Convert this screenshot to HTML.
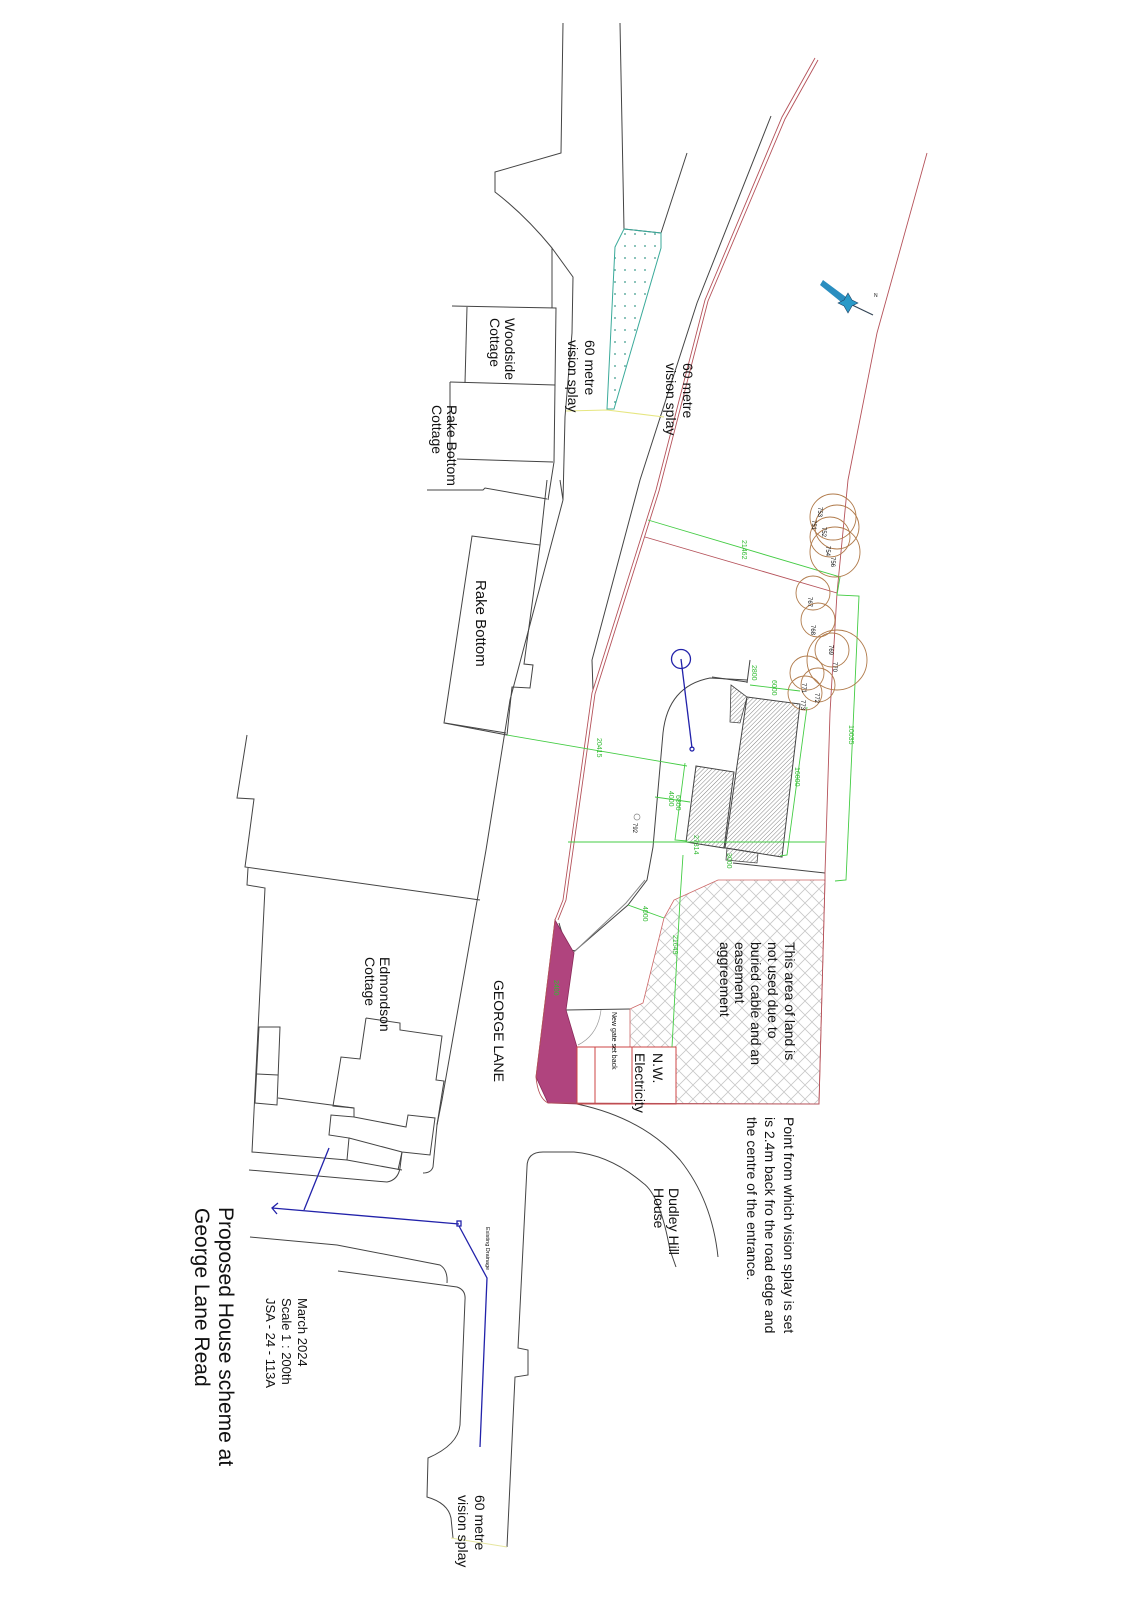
<!DOCTYPE html>
<html><head><meta charset="utf-8"><style>
html,body{margin:0;padding:0;background:#fff}
svg{display:block}
text{font-family:"Liberation Sans",sans-serif;fill:#111}
</style></head><body>
<svg width="1130" height="1600" viewBox="0 0 1130 1600" xmlns="http://www.w3.org/2000/svg">
<defs>
<pattern id="xh" width="14" height="14" patternUnits="userSpaceOnUse">
<path d="M0 0L14 14M14 0L0 14" stroke="#c8c8c8" stroke-width="0.8"/>
</pattern>
<pattern id="hh" width="3" height="3" patternUnits="userSpaceOnUse" patternTransform="rotate(45)">
<line x1="0" y1="0" x2="0" y2="3" stroke="#666" stroke-width="0.8"/>
</pattern>
<pattern id="dots" width="10" height="12" patternUnits="userSpaceOnUse">
<circle cx="5" cy="6" r="0.9" fill="#3a9a8a"/>
</pattern>
</defs>
<g fill="none" stroke="#444" stroke-width="1">
<path d="M563,23 L561,153 L495,172 L495,192 Q525,215 552,248 L573,277 L572,333 L565,417 L563,500 L560,480"/>
<line x1="552" y1="248" x2="552" y2="308"/>
<polyline points="620,23 624,229 661,233 687,153"/>
<polyline points="452,306 556,308 554,462 548,500"/>
<line x1="467" y1="307" x2="465" y2="383"/>
<line x1="450" y1="382" x2="555" y2="385"/>
<line x1="450" y1="382" x2="450" y2="460"/>
<line x1="457" y1="459" x2="553" y2="462"/>
<polyline points="427,490 483,490 485,488 547,499"/>
<polygon points="472,536 540,545 524,664 533,665 530,688 512,687 507,735 444,723"/>
<line x1="547" y1="480" x2="540" y2="545"/>
<path d="M563,500 L510,700 L486,850 L442,1100 L437,1125 L433,1167 Q431,1173 423,1173"/>
<polyline points="247,735 237,798 254,799 245,867 480,900"/>
<line x1="445" y1="723" x2="506" y2="733"/>
<polyline points="248,868 247,885 265,888 252,1152 347,1160 402,1170"/>
<polygon points="259,1027 280,1027 277,1105 255,1103"/>
<line x1="257" y1="1074" x2="278" y2="1075"/>
<line x1="278" y1="1098" x2="354" y2="1108"/>
<polyline points="366,1018 400,1023 400,1030 442,1036 436,1080 444,1081 437,1125"/>
<polyline points="366,1018 360,1059 341,1057 333,1106 354,1108 354,1117 331,1115 329,1135 349,1138 347,1160"/>
<polyline points="349,1138 402,1152 430,1155 435,1118 408,1115 406,1127 354,1117"/>
<line x1="402" y1="1152" x2="398" y2="1170"/>
<path d="M249,1170 L387,1182 Q398,1180 400,1168 L402,1152"/>
<path d="M250,1237 L337,1245 L440,1265 Q448,1270 447,1283"/>
<path d="M338,1271 L457,1287 Q466,1290 465,1300 L460,1425 Q458,1445 428,1458 L427,1497 Q448,1503 451,1518 L453,1538"/>
<path d="M676,1267 L670,1250 Q660,1195 643,1183 Q610,1155 574,1152 L543,1152 Q527,1152 527,1167 L518,1348 L528,1350 L528,1375 L515,1377 L507,1547"/>
<path d="M577,1104 Q643,1118 680,1160 Q712,1200 718,1257"/>
<path d="M747,680 L710,678 Q668,686 663,733 L653,847 L647,880 L628,905 L576,950 Q568,955 559,923"/>
<path d="M645,880 L626,903 L574,952" stroke="#888"/>
<line x1="712" y1="677" x2="747" y2="682"/>
<line x1="750" y1="660" x2="747" y2="683"/>
<line x1="733" y1="863" x2="825" y2="873"/>
<line x1="566" y1="1010" x2="630" y2="1009"/>
<path d="M601,1010 Q598,1035 578,1045" stroke="#999" stroke-width="0.7"/>
<polyline points="771,116 697,303 640,480 592,660 593,690"/>
</g>
<polygon points="624,229 661,233 661,248 614,409 607,409 615,247" fill="url(#dots)" stroke="#3aaa9a" stroke-width="1"/>
<polyline points="566,411 607,410 664,417" fill="none" stroke="#e6e680" stroke-width="1"/>
<line x1="451" y1="1538" x2="507" y2="1547" stroke="#e6e6a0" stroke-width="1"/>
<polygon points="718,880 825,880 819,1104 676,1104 676,1047 630,1047 630,1009 643,1003 664,918 674,900" fill="url(#xh)" stroke="#c66" stroke-width="0.8"/>
<polygon points="555,920 574,953 566,1010 577,1047 577,1104 548,1103 536,1077" fill="#b0447e" stroke="#8a2a5a" stroke-width="0.8"/>
<g fill="none" stroke="#c44" stroke-width="1">
<rect x="577" y="1047" width="99" height="57"/>
<line x1="595" y1="1047" x2="595" y2="1104"/>
<line x1="632" y1="1047" x2="632" y2="1104"/>
</g>
<g fill="none" stroke="#b5525a" stroke-width="0.9">
<path d="M815,58 L782,117 L705,300 L656,490 L592,693 L563,900 L555,920 L536,1077 Q538,1098 548,1103 L819,1104 L825,880 L825,873 L830,713 L837,593 L848,480 L877,333 L927,153"/>
<polyline points="818,60 785,119 708,301 659,491 595,694 566,900 558,920"/>
<line x1="645" y1="537" x2="837" y2="593"/>
</g>
<polygon points="747,697 800,704 782,857 725,848" fill="url(#hh)" stroke="#444" stroke-width="1"/>
<polygon points="696,766 734,772 724,848 686,842" fill="url(#hh)" stroke="#444" stroke-width="1"/>
<polygon points="731,685 747,697 740,723 730,722" fill="url(#hh)" stroke="#444" stroke-width="0.8"/>
<polygon points="727,848 758,853 757,863 726,860" fill="url(#hh)" stroke="#444" stroke-width="0.8"/>
<g fill="none" stroke="#4c4" stroke-width="0.9">
<polyline points="648,520 840,577 837,595 859,596 846,880 835,881"/>
<line x1="507" y1="735" x2="687" y2="766"/>
<line x1="568" y1="842" x2="825" y2="842"/>
<polyline points="685,763 675,840 687,841"/>
<polyline points="807,707 787,855 780,856"/>
<line x1="750" y1="685" x2="800" y2="691"/>
<line x1="655" y1="797" x2="690" y2="802"/>
<polyline points="683,855 680,900 672,1047"/>
<line x1="628" y1="905" x2="664" y2="918"/>
</g>
<g font-size="7">
<text transform="translate(742,540) rotate(90)" style="fill:#3b3">21462</text>
<text transform="translate(597,738) rotate(90)" style="fill:#3b3">20415</text>
<text transform="translate(795,767) rotate(90)" style="fill:#3b3">16000</text>
<text transform="translate(849,725) rotate(90)" style="fill:#3b3">10035</text>
<text transform="translate(772,680) rotate(90)" style="fill:#3b3">6000</text>
<text transform="translate(752,665) rotate(90)" style="fill:#3b3">2800</text>
<text transform="translate(676,795) rotate(90)" style="fill:#3b3">6800</text>
<text transform="translate(669,791) rotate(90)" style="fill:#3b3">4000</text>
<text transform="translate(694,835) rotate(90)" style="fill:#3b3">27314</text>
<text transform="translate(643,906) rotate(90)" style="fill:#3b3">4000</text>
<text transform="translate(673,935) rotate(90)" style="fill:#3b3">21649</text>
<text transform="translate(727,853) rotate(90)" style="fill:#3b3">3000</text>
<text transform="translate(554,980) rotate(90)" style="fill:#3b3">2400</text>
</g>
<g fill="none" stroke="#b07a4a" stroke-width="0.9">
<circle cx="833" cy="517" r="23"/><circle cx="837" cy="527" r="22"/><circle cx="830" cy="537" r="20"/><circle cx="835" cy="552" r="25"/>
<circle cx="813" cy="593" r="17"/><circle cx="818" cy="620" r="17"/><circle cx="837" cy="660" r="30"/><circle cx="832" cy="650" r="17"/>
<circle cx="807" cy="673" r="17"/><circle cx="805" cy="693" r="17"/><circle cx="818" cy="685" r="17"/>
</g>
<g font-size="6">
<text transform="translate(818,507) rotate(90)">753</text>
<text transform="translate(812,520) rotate(90)">751</text>
<text transform="translate(822,527) rotate(90)">752</text>
<text transform="translate(826,546) rotate(90)">754</text>
<text transform="translate(831,557) rotate(90)">756</text>
<text transform="translate(808,597) rotate(90)">767</text>
<text transform="translate(811,625) rotate(90)">768</text>
<text transform="translate(829,645) rotate(90)">769</text>
<text transform="translate(833,662) rotate(90)">770</text>
<text transform="translate(802,683) rotate(90)">771</text>
<text transform="translate(815,693) rotate(90)">772</text>
<text transform="translate(801,700) rotate(90)">773</text>
<text transform="translate(633,823) rotate(90)">792</text>
</g>
<circle cx="637" cy="817" r="3" fill="none" stroke="#888" stroke-width="0.7"/>
<g fill="none" stroke="#2222aa" stroke-width="1.3">
<circle cx="681" cy="659" r="9.5"/>
<line x1="681" y1="659" x2="692" y2="748"/>
<circle cx="692" cy="749" r="2"/>
<line x1="329" y1="1148" x2="304" y2="1210"/>
<line x1="272" y1="1208" x2="459" y2="1224"/>
<polyline points="278,1203 272,1208 277,1214"/>
<rect x="457" y="1221" width="4" height="5"/>
<polyline points="459,1226 487,1278 480,1447"/>
</g>
<g>
<polygon points="820,285 823,280 850,300 846,306" fill="#2a8ec0"/>
<line x1="848" y1="303" x2="873" y2="315" stroke="#345" stroke-width="1.2"/>
<polygon points="848,293 852,300 858,303 852,306 848,313 844,306 838,303 844,300" fill="#2a9ac8" stroke="#246" stroke-width="0.6"/>
<text x="874" y="297" font-size="5">N</text>
</g>
<g font-size="14">
<text transform="translate(505,318) rotate(90)">Woodside</text>
<text transform="translate(490,318) rotate(90)">Cottage</text>
<text transform="translate(447,405) rotate(90)">Rake Bottom</text>
<text transform="translate(432,405) rotate(90)">Cottage</text>
<text transform="translate(476,580) rotate(90)" font-size="15">Rake Bottom</text>
<text transform="translate(585,340) rotate(90)">60 metre</text>
<text transform="translate(568,340) rotate(90)">vision splay</text>
<text transform="translate(683,363) rotate(90)">60 metre</text>
<text transform="translate(666,363) rotate(90)">vision splay</text>
<text transform="translate(380,957) rotate(90)">Edmondson</text>
<text transform="translate(365,957) rotate(90)">Cottage</text>
<text transform="translate(494,980) rotate(90)">GEORGE LANE</text>
<text transform="translate(785,942) rotate(90)">This area of land is</text>
<text transform="translate(768,942) rotate(90)">not used due to</text>
<text transform="translate(751,942) rotate(90)">buried cable and an</text>
<text transform="translate(735,942) rotate(90)">easement</text>
<text transform="translate(720,942) rotate(90)">aggreement</text>
<text transform="translate(784,1117) rotate(90)">Point from which vision splay is set</text>
<text transform="translate(765,1117) rotate(90)">is 2.4m back fro the road edge and</text>
<text transform="translate(747,1117) rotate(90)">the centre of the entrance.</text>
<text transform="translate(653,1053) rotate(90)">N.W.</text>
<text transform="translate(635,1053) rotate(90)">Electricity</text>
<text transform="translate(669,1188) rotate(90)">Dudley Hill</text>
<text transform="translate(654,1188) rotate(90)">House</text>
<text transform="translate(475,1495) rotate(90)">60 metre</text>
<text transform="translate(458,1495) rotate(90)">vision splay</text>
</g>
<text transform="translate(612,1012) rotate(90)" font-size="7">New gate set back</text>
<text transform="translate(486,1227) rotate(90)" font-size="5.5">Existing Drainage</text>
<text transform="translate(219,1207) rotate(90)" font-size="21">Proposed House scheme at</text>
<text transform="translate(195,1208) rotate(90)" font-size="21">George Lane Read</text>
<g font-size="13">
<text transform="translate(298,1298) rotate(90)">March 2024</text>
<text transform="translate(282,1298) rotate(90)">Scale 1 : 200th</text>
<text transform="translate(266,1298) rotate(90)">JSA - 24 - 113A</text>
</g>
</svg>
</body></html>
